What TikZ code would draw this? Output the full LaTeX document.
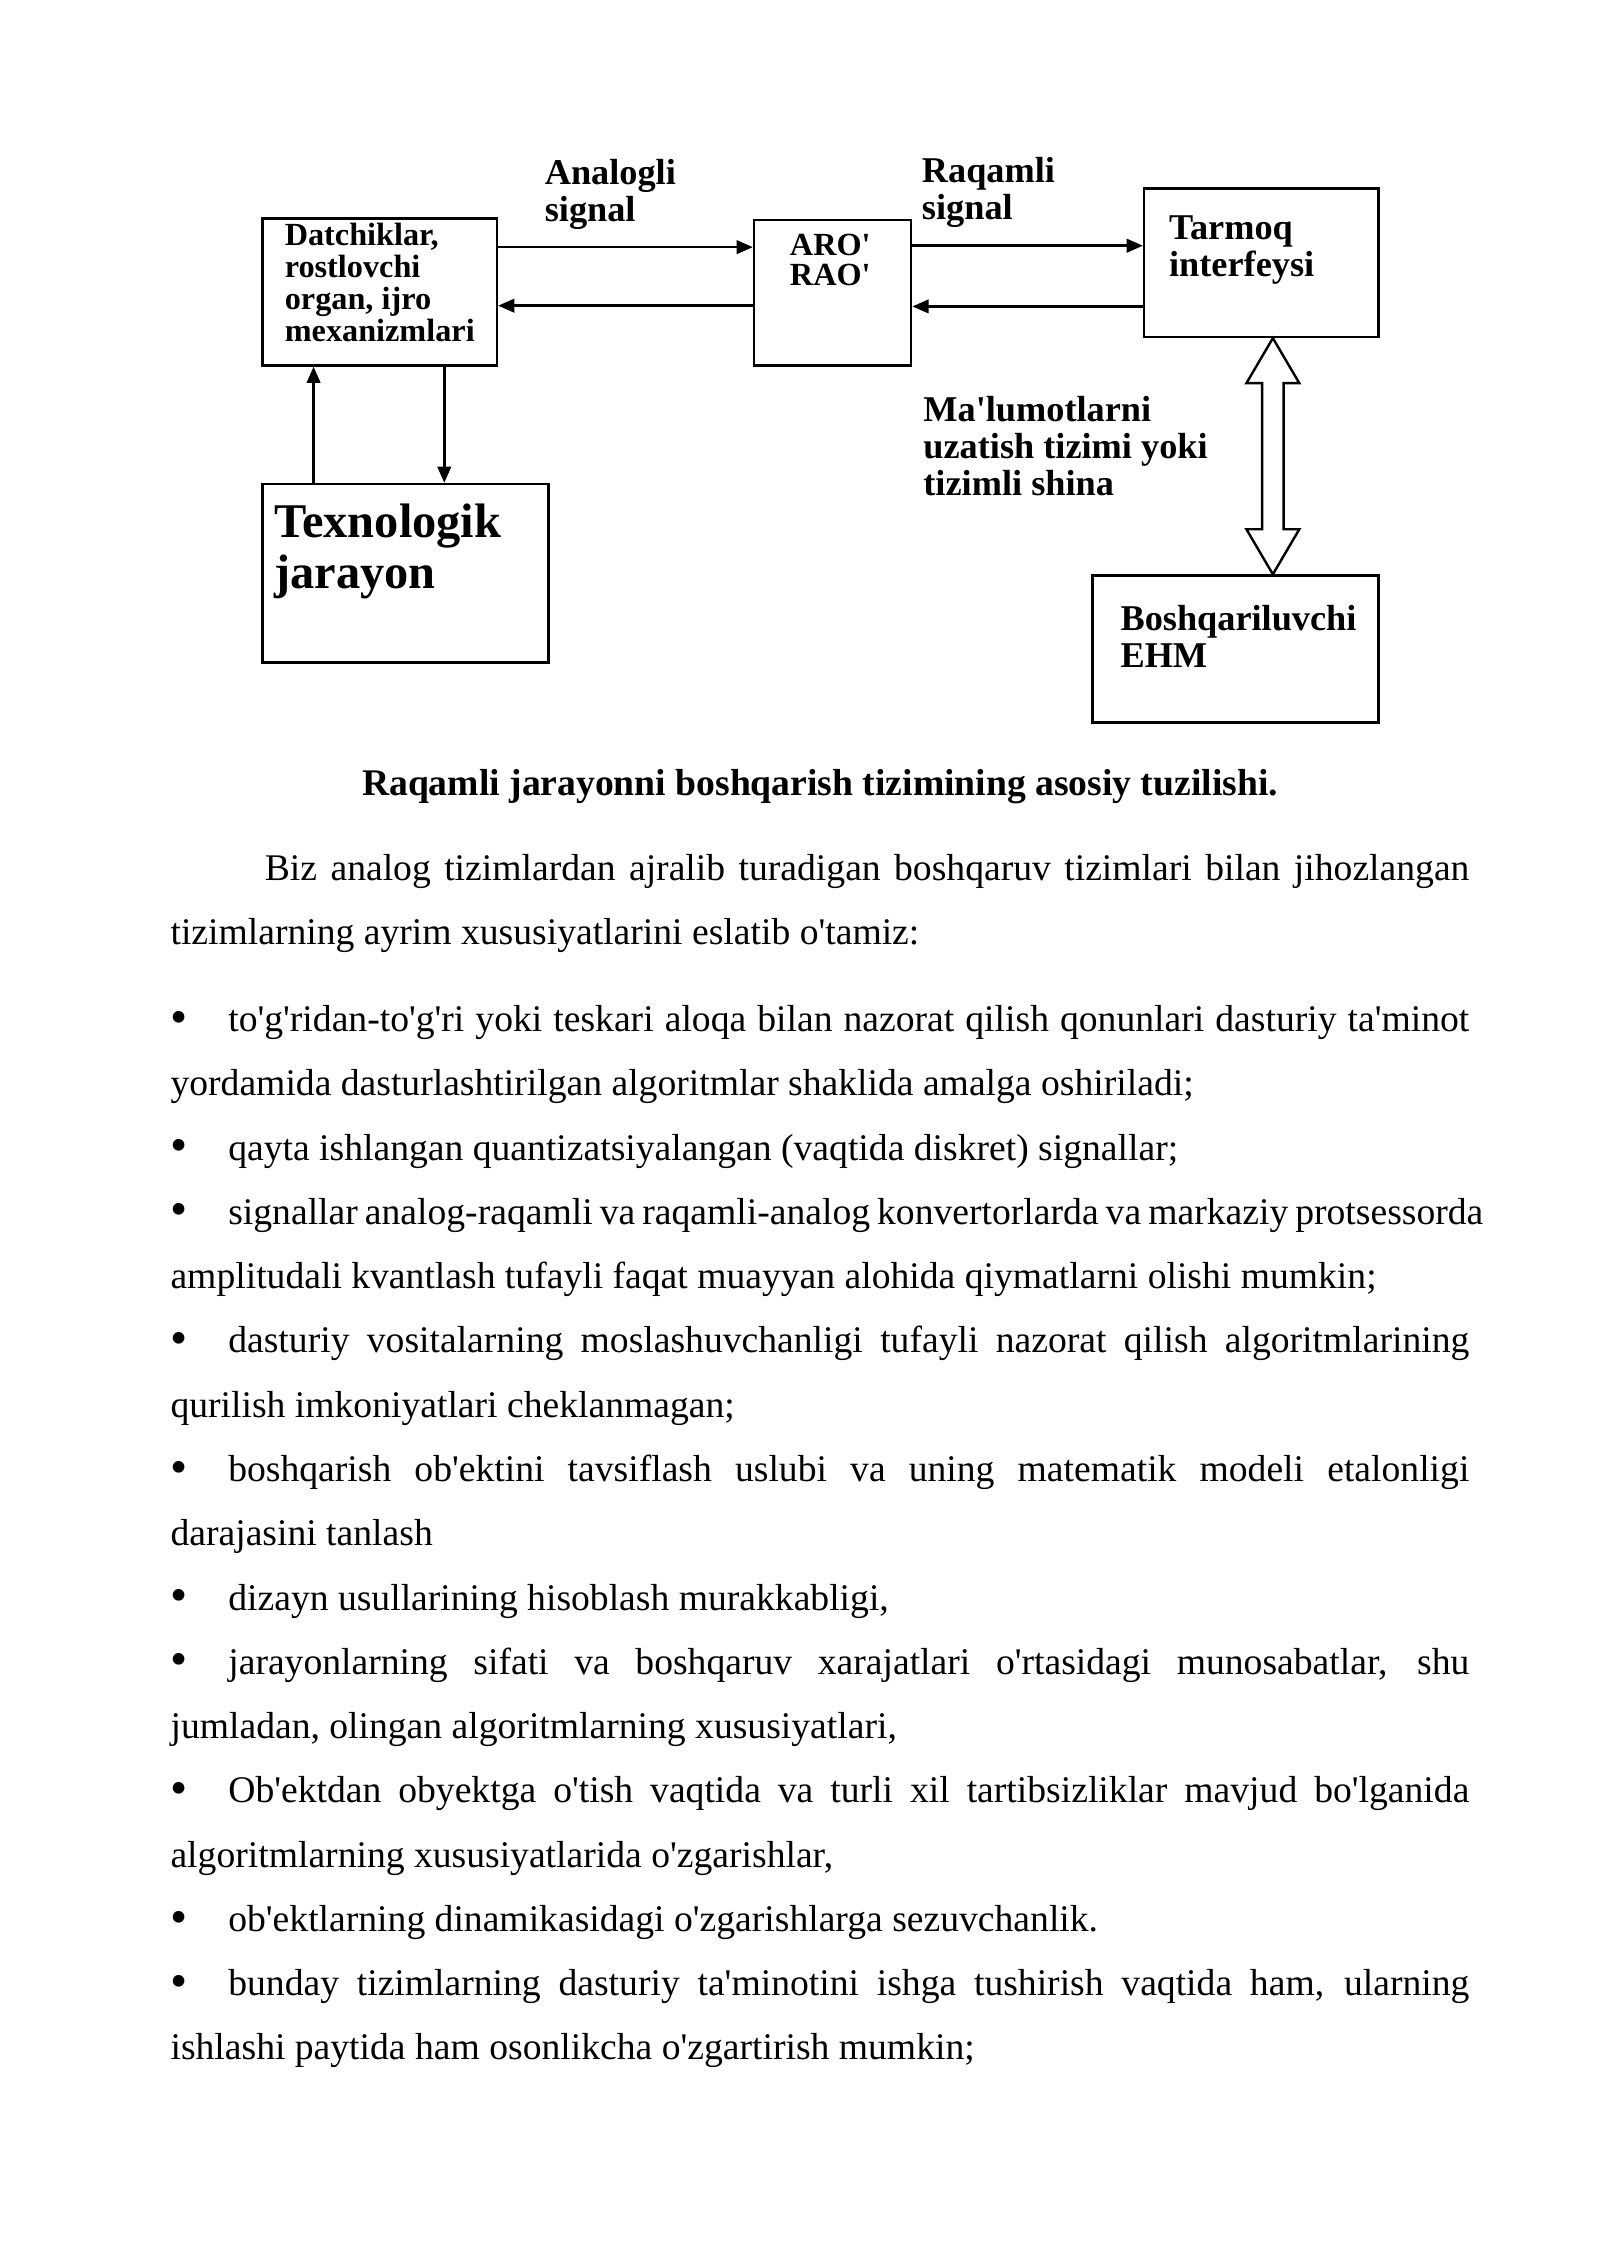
\documentclass[tikz,border=0pt]{standalone}
\usepackage{fontspec}
\setmainfont{Liberation Serif}[Ligatures=TeXOff]
\usetikzlibrary{arrows,arrows.meta}
\usetikzlibrary{calc, positioning}
\newcommand{\itm}{\makebox[21.5pt][l]{\raisebox{-0.6pt}{\scalebox{1.3}{\textbullet}}}}
\newcommand{\nobreaks}{\hyphenpenalty=10000\relax\exhyphenpenalty=10000\relax\tolerance=9999\relax}
\tikzset{
    blk/.style={draw, line width=0.9pt, rectangle, inner sep=0pt, anchor=north west},
    lab/.style args={#1 #2}{inner sep=0pt, anchor=base west, align=left,
        font=\fontsize{#1}{#2}\selectfont\bfseries},
    sig/.style={line width=0.9pt, -{Triangle[length=6pt, width=5pt]}},
    bus/.style={line width=0.9pt, fill=white, line join=miter},
    para/.style={inner sep=0pt, anchor=base west, text width=483.2pt, align=justify,
        font=\fontsize{14}{23.9}\selectfont\nobreaks}
}

\begin{document}
\begin{tikzpicture}[x=0.5315pt, y=-0.5315pt]
    \def \u {0.5315pt}
    \def \hw {18.5}
    \def \sw {7.5}
    \def \hl {31.5}
    \fill[white] (0,0) rectangle (1120,1583.4);
    \useasboundingbox (0,0) rectangle (1120,1583.4);
    \node[blk, minimum width=164*\u, minimum height=103*\u] (dat) at (183,152) {};
    \node[blk, minimum width=110*\u, minimum height=102*\u] (aro) at (527,153) {};
    \node[blk, minimum width=164*\u, minimum height=104*\u] (tar) at (800,131) {};
    \node[blk, minimum width=200*\u, minimum height=103*\u] (ehm) at (764,402) {};
    \node[blk, minimum width=200*\u, minimum height=125*\u] (tex) at (183,338) {};
    \coordinate (hA) at (0,173);
    \coordinate (hB) at (0,214);
    \coordinate (hC) at (0,172);
    \coordinate (hD) at (0,214.5);
    \coordinate (vA) at (219.5,0);
    \coordinate (vB) at (311,0);
    \coordinate (bx) at (891,0);
    \draw[sig] (dat.east |- hA) -- (aro.west |- hA);
    \draw[sig] (aro.west |- hB) -- (dat.east |- hB);
    \draw[sig] (aro.east |- hC) -- (tar.west |- hC);
    \draw[sig] (tar.west |- hD) -- (aro.east |- hD);
    \draw[sig] (tex.north -| vA) -- (dat.south -| vA);
    \draw[sig] (dat.south -| vB) -- (tex.north -| vB);
    % hollow two-way bus arrow
    \coordinate (b1) at (tar.south -| bx);
    \coordinate (b2) at (ehm.north -| bx);
    \draw[bus] (b1) -- ($(b1)+(\hw,\hl)$) -- ($(b1)+(\sw,\hl)$) -- ($(b2)+(\sw,-\hl)$)
        -- ($(b2)+(\hw,-\hl)$) -- (b2) -- ($(b2)+(-\hw,-\hl)$) -- ($(b2)+(-\sw,-\hl)$)
        -- ($(b1)+(-\sw,\hl)$) -- ($(b1)+(-\hw,\hl)$) -- cycle;
    % labels sit on the baseline of their last line
    \node[lab=12 11.9] (tdat) at (199,239.3) {Datchiklar,\\rostlovchi\\organ, ijro\\mexanizmlari};
    \node[lab=12 11.5] (taro) at (552.6,200.2) {ARO'\\RAO'};
    \node[lab=13.5 13.8] (tana) at (381,155) {Analogli\\signal};
    \node[lab=13.5 13.8] (traq) at (645,154) {Raqamli\\signal};
    \node[lab=13.5 13.8] (ttar) at (818,193.6) {Tarmoq\\interfeysi};
    \node[lab=13.5 13.8] (tbus) at (646,346.7) {Ma'lumotlarni\\uzatish tizimi yoki\\tizimli shina};
    \node[lab=13.5 13.8] (tehm) at (784,467.5) {Boshqariluvchi\\EHM};
    \node[lab=18 19] (ttex) at (191.7,412) {Texnologik\\jarayon};
    \node[anchor=base, inner sep=0pt, font=\fontsize{14}{16}\selectfont\bfseries] (cap) at (574,557)
        {Raqamli jarayonni boshqarish tizimining asosiy tuzilishi.};
    \node[para] (p0) at (119,616) {\hspace*{35.1pt}Biz analog tizimlardan ajralib turadigan boshqaruv tizimlari bilan jihozlangan\linebreak
        tizimlarning ayrim xususiyatlarini eslatib o'tamiz:};
    \node[para] (p1) at (119,722) {\itm to'g'ridan-to'g'ri yoki teskari aloqa bilan nazorat qilish qonunlari dasturiy ta'minot\linebreak
        yordamida dasturlashtirilgan algoritmlar shaklida amalga oshiriladi;};
    \node[para] (p2) at (119,812) {\itm qayta ishlangan quantizatsiyalangan (vaqtida diskret) signallar;};
    \node[para] (p3) at (119,857) {\makebox[488.4pt][s]{\itm signallar analog-raqamli va raqamli-analog konvertorlarda va markaziy protsessorda}\linebreak
        amplitudali kvantlash tufayli faqat muayyan alohida qiymatlarni olishi mumkin;};
    \node[para] (p4) at (119,947) {\itm dasturiy vositalarning moslashuvchanligi tufayli nazorat qilish algoritmlarining\linebreak
        qurilish imkoniyatlari cheklanmagan;};
    \node[para] (p5) at (119,1037) {\itm boshqarish ob'ektini tavsiflash uslubi va uning matematik modeli etalonligi\linebreak
        darajasini tanlash};
    \node[para] (p6) at (119,1127) {\itm dizayn usullarining hisoblash murakkabligi,};
    \node[para] (p7) at (119,1172) {\itm jarayonlarning sifati va boshqaruv xarajatlari o'rtasidagi munosabatlar, shu\linebreak
        jumladan, olingan algoritmlarning xususiyatlari,};
    \node[para] (p8) at (119,1262) {\itm Ob'ektdan obyektga o'tish vaqtida va turli xil tartibsizliklar mavjud bo'lganida\linebreak
        algoritmlarning xususiyatlarida o'zgarishlar,};
    \node[para] (p9) at (119,1352) {\itm ob'ektlarning dinamikasidagi o'zgarishlarga sezuvchanlik.};
    \node[para] (p10) at (119,1397) {\itm bunday tizimlarning dasturiy ta'minotini ishga tushirish vaqtida ham, ularning\linebreak
        ishlashi paytida ham osonlikcha o'zgartirish mumkin;};
\end{tikzpicture}
\end{document}
